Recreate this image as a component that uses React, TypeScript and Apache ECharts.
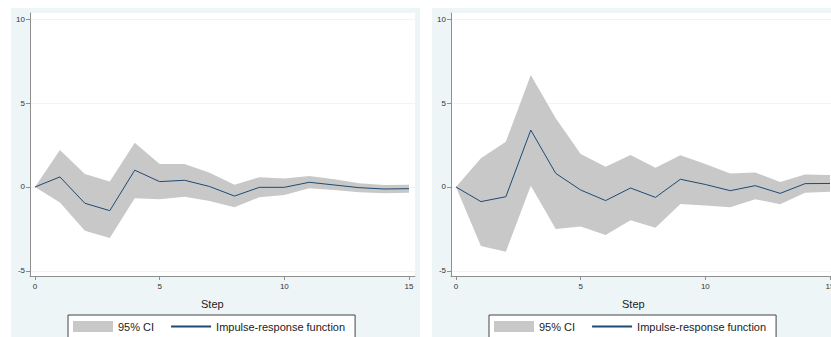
import React, { useEffect, useRef } from "react";
import * as echarts from "echarts";

const steps = [0, 1, 2, 3, 4, 5, 6, 7, 8, 9, 10, 11, 12, 13, 14, 15];
const xTicks = [0, 5, 10, 15];
const yTicks = [-5, 0, 5, 10];

const leftIrf = [0, 0.6, -0.97, -1.41, 1.0, 0.32, 0.4, 0.03, -0.54, -0.02, -0.02, 0.28, 0.12, -0.04, -0.12, -0.1];
const leftUpper = [0, 2.2, 0.77, 0.32, 2.64, 1.37, 1.37, 0.85, 0.14, 0.58, 0.5, 0.65, 0.46, 0.22, 0.12, 0.14];
const leftLower = [0, -0.93, -2.6, -3.04, -0.67, -0.73, -0.58, -0.83, -1.21, -0.61, -0.48, -0.08, -0.18, -0.32, -0.38, -0.34];

const rightIrf = [0, -0.87, -0.58, 3.39, 0.81, -0.18, -0.81, -0.06, -0.62, 0.46, 0.15, -0.22, 0.08, -0.38, 0.2, 0.21];
const rightUpper = [0, 1.71, 2.7, 6.67, 4.09, 1.96, 1.21, 1.9, 1.15, 1.89, 1.37, 0.81, 0.86, 0.3, 0.75, 0.71];
const rightLower = [0, -3.51, -3.85, 0.08, -2.5, -2.36, -2.86, -1.98, -2.42, -1.01, -1.1, -1.21, -0.73, -1.03, -0.34, -0.28];

const legendCI = "95% CI";
const legendIRF = "Impulse-response function";
const xTitle = "Step";

const FONT = "'Liberation Sans', Arial, sans-serif";
const AXIS_COLOR = "#8f8f8f";
const BAND_COLOR = "#c8c8c8";
const LINE_COLOR = "#1f4a72";

function makeOption(irf: number[], upper: number[], lower: number[]) {
  const bandData = steps.map((s, i) => [s, lower[i], upper[i]]);
  const irfData = steps.map((s, i) => [s, irf[i]]);
  return {
    animation: false,
    backgroundColor: "transparent",
    textStyle: { fontFamily: FONT },
    grid: {
      left: 19,
      right: 5,
      top: 5,
      bottom: 77,
      show: true,
      backgroundColor: "#ffffff",
      borderWidth: 0,
    },
    xAxis: {
      type: "value",
      min: -0.2,
      max: 15.24,
      axisLine: { show: true, onZero: false, lineStyle: { color: AXIS_COLOR, width: 1 } },
      axisTick: { show: true, length: 4, customValues: xTicks, lineStyle: { color: AXIS_COLOR } },
      axisLabel: {
        customValues: xTicks,
        fontSize: 8,
        color: "#333",
        margin: 6,
        fontFamily: FONT,
      },
      splitLine: { show: false },
    },
    yAxis: {
      type: "value",
      min: -5.3,
      max: 10.36,
      splitNumber: 3,
      axisLine: { show: true, onZero: false, lineStyle: { color: AXIS_COLOR, width: 1 } },
      axisTick: { show: true, length: 4, customValues: yTicks, lineStyle: { color: AXIS_COLOR } },
      axisLabel: {
        customValues: yTicks,
        fontSize: 8,
        color: "#333",
        margin: 5,
        fontFamily: FONT,
      },
      splitLine: { show: true, lineStyle: { color: "#f3f4f0", width: 1 } },
    },
    legend: {
      left: 57,
      top: 307,
      orient: "horizontal",
      padding: [6, 10, 6, 5],
      itemGap: 16,
      itemWidth: 40,
      itemHeight: 11,
      borderColor: "#444",
      borderWidth: 1,
      borderRadius: 0,
      backgroundColor: "#ffffff",
      textStyle: { fontSize: 11, color: "#222", fontFamily: FONT },
      data: [
        { name: legendCI, icon: "rect", itemStyle: { color: BAND_COLOR } },
        { name: legendIRF, itemStyle: { opacity: 0 } },
      ],
    },
    graphic: [
      {
        type: "text",
        left: 190,
        top: 290,
        style: { text: xTitle, fill: "#222", font: "11px " + FONT },
      },
    ],
    series: [
      {
        name: legendCI,
        type: "custom",
        data: bandData,
        encode: { x: 0, y: [1, 2] },
        itemStyle: { color: BAND_COLOR },
        silent: true,
        z: 1,
        renderItem: (params: any, api: any) => {
          if (params.dataIndex !== 0) return null;
          const top = steps.map((s, i) => api.coord([s, upper[i]]));
          const bot = steps.map((s, i) => api.coord([s, lower[i]])).reverse();
          return {
            type: "polygon",
            shape: { points: top.concat(bot) },
            style: { fill: BAND_COLOR, stroke: "none" },
          };
        },
      },
      {
        name: legendIRF,
        type: "line",
        data: irfData,
        symbol: "none",
        showSymbol: false,
        itemStyle: { color: LINE_COLOR },
        lineStyle: { color: LINE_COLOR, width: 1 },
        z: 3,
      },
    ],
  };
}

function Panel(props: { left: number; irf: number[]; upper: number[]; lower: number[] }) {
  const ref = useRef<HTMLDivElement>(null);
  useEffect(() => {
    if (!ref.current) return;
    const chart = echarts.init(ref.current, undefined, { renderer: "svg" });
    chart.setOption(makeOption(props.irf, props.upper, props.lower) as any);
    return () => chart.dispose();
  }, []);
  return (
    <div
      ref={ref}
      style={{
        position: "absolute",
        left: props.left,
        top: 8,
        width: 409,
        height: 345,
        background: "#eef5f7",
      }}
    />
  );
}

export default function App() {
  return (
    <div
      style={{
        position: "fixed",
        left: 0,
        top: 0,
        width: 831,
        height: 337,
        overflow: "hidden",
        background: "#ffffff",
      }}
    >
      <Panel left={11} irf={leftIrf} upper={leftUpper} lower={leftLower} />
      <Panel left={432} irf={rightIrf} upper={rightUpper} lower={rightLower} />
    </div>
  );
}
